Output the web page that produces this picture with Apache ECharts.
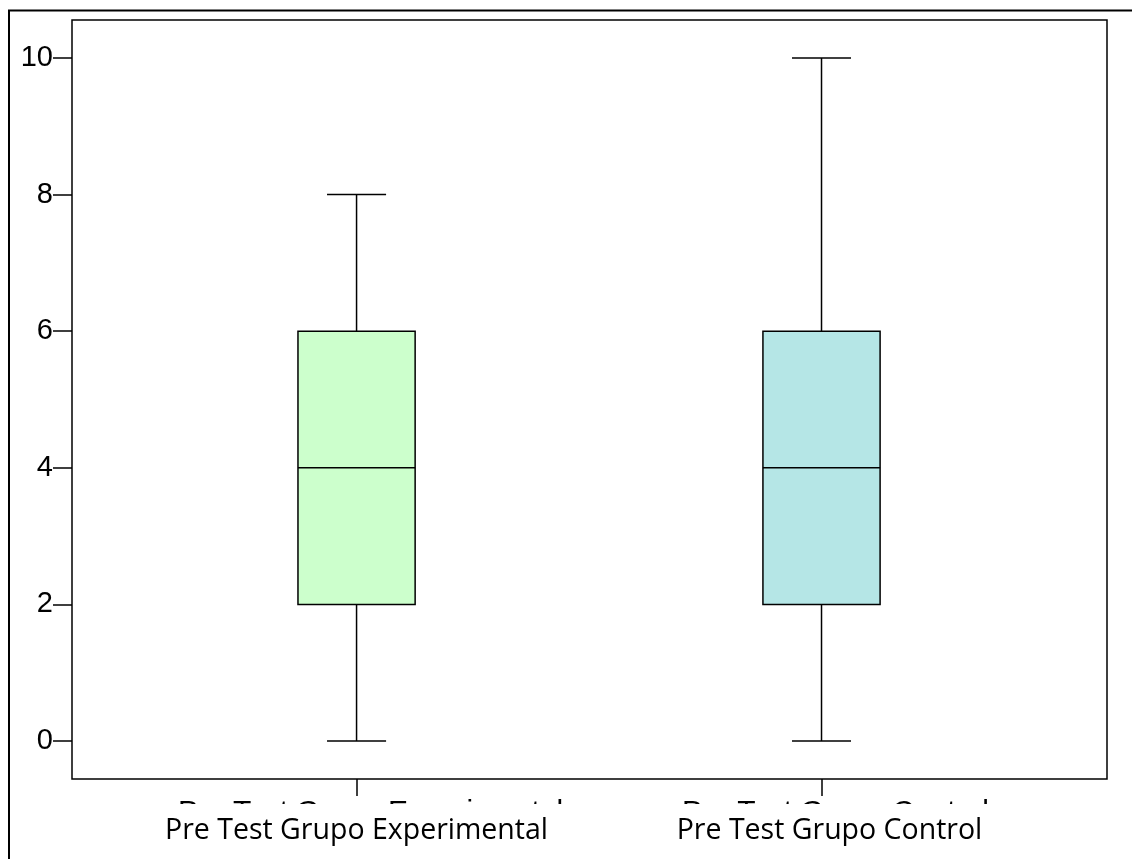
<!DOCTYPE html>
<html>
<head>
<meta charset="utf-8">
<script src="https://cdn.jsdelivr.net/npm/echarts@6/dist/echarts.min.js"></script>
<style>html,body{margin:0;padding:0;background:#fff}#c{width:1132px;height:859px}</style>
</head>
<body>
<div id="c"></div>
<script>
const categories = ['Pre Test Grupo Experimental', 'Pre Test Grupo Control'];
const categoryPositions = [1, 2];
const minValues = [0, 0];
const q1Values = [2, 2];
const medianValues = [4, 4];
const q3Values = [6, 6];
const maxValues = [8, 10];
const yTicks = [0, 2, 4, 6, 8, 10];
const boxColors = ['#CCFFCC', '#B5E6E6'];

const chart = echarts.init(document.getElementById('c'), null, {renderer: 'canvas'});
const data = categoryPositions.map((x, i) => [x, minValues[i], q1Values[i], medianValues[i], q3Values[i], maxValues[i]]);
const idxFor = v => categoryPositions.indexOf(Math.round(v));

const arialLabel = {fontFamily: 'Liberation Sans, Arial', fontSize: 30, color: '#000'};
const sansLabel = {fontFamily: 'Open Sans', fontSize: 28.5, color: '#000'};

const option = {
  animation: false,
  backgroundColor: '#fff',
  grid: {left: 72, top: 20, right: 25, bottom: 80, show: true, borderColor: '#000', borderWidth: 1.5, containLabel: false, outerBoundsMode: 'none'},
  xAxis: [{
    type: 'value', min: 0.388, max: 2.614, position: 'bottom', z: 0,
    splitLine: {show: false},
    axisLine: {show: false, onZero: false},
    axisTick: {show: true, customValues: categoryPositions, length: 17, lineStyle: {color: '#000', width: 1.5}},
    axisLabel: {
      show: true, customValues: categoryPositions, margin: 19,
      formatter: v => { const i = idxFor(v); return i < 0 ? '' : '{a|' + categories[i] + '}'; },
      rich: {a: Object.assign({padding: [0, 0, 0, 28]}, arialLabel)}
    }
  }, {
    type: 'value', min: 0.388, max: 2.614, position: 'bottom', z: 5,
    splitLine: {show: false},
    axisLine: {show: false, onZero: false},
    axisTick: {show: false},
    axisLabel: {
      show: true, customValues: categoryPositions, margin: 37,
      formatter: v => { const i = idxFor(v); return i < 0 ? '' : (i === 1 ? '{s|' + categories[i] + '}' : '{n|' + categories[i] + '}'); },
      rich: {n: Object.assign({}, sansLabel), s: Object.assign({padding: [0, 0, 0, 16]}, sansLabel)}
    }
  }],
  yAxis: {
    type: 'value', min: -0.556, max: 10.556,
    splitLine: {show: false},
    axisLine: {show: false, onZero: false},
    axisTick: {show: true, customValues: yTicks, length: 19, lineStyle: {color: '#000', width: 1.5}},
    axisLabel: {show: true, customValues: yTicks, margin: 19, color: '#000', fontFamily: 'Liberation Sans, Arial', fontSize: 29}
  },
  graphic: [
    {type: 'rect', z: 3, silent: true, shape: {x: 100, y: 804, width: 1000, height: 45}, style: {fill: '#fff'}},
    {type: 'polyline', z: 3, silent: true, shape: {points: [[9, 859], [9, 10.5], [1132, 10.5]]}, style: {stroke: '#000', lineWidth: 2, fill: null}}
  ],
  series: [{
    type: 'custom',
    xAxisIndex: 0,
    data: data,
    renderItem: function (params, api) {
      const x = api.value(0);
      const boxW = api.size([0.252, 0])[0];
      const capW = api.size([0.127, 0])[0];
      const pMin = api.coord([x, api.value(1)]);
      const pQ1 = api.coord([x, api.value(2)]);
      const pMed = api.coord([x, api.value(3)]);
      const pQ3 = api.coord([x, api.value(4)]);
      const pMax = api.coord([x, api.value(5)]);
      const cx = pMin[0];
      const ls = {stroke: '#000', lineWidth: 1.5};
      return {
        type: 'group',
        children: [
          {type: 'line', shape: {x1: cx, y1: pMin[1], x2: cx, y2: pQ1[1]}, style: ls},
          {type: 'line', shape: {x1: cx, y1: pQ3[1], x2: cx, y2: pMax[1]}, style: ls},
          {type: 'line', shape: {x1: cx - capW / 2, y1: pMin[1], x2: cx + capW / 2, y2: pMin[1]}, style: ls},
          {type: 'line', shape: {x1: cx - capW / 2, y1: pMax[1], x2: cx + capW / 2, y2: pMax[1]}, style: ls},
          {type: 'rect', shape: {x: cx - boxW / 2, y: pQ3[1], width: boxW, height: pQ1[1] - pQ3[1]}, style: {fill: boxColors[params.dataIndex], stroke: '#000', lineWidth: 1.5}},
          {type: 'line', shape: {x1: cx - boxW / 2, y1: pMed[1], x2: cx + boxW / 2, y2: pMed[1]}, style: ls}
        ]
      };
    }
  }]
};
chart.setOption(option);
</script>
</body>
</html>
